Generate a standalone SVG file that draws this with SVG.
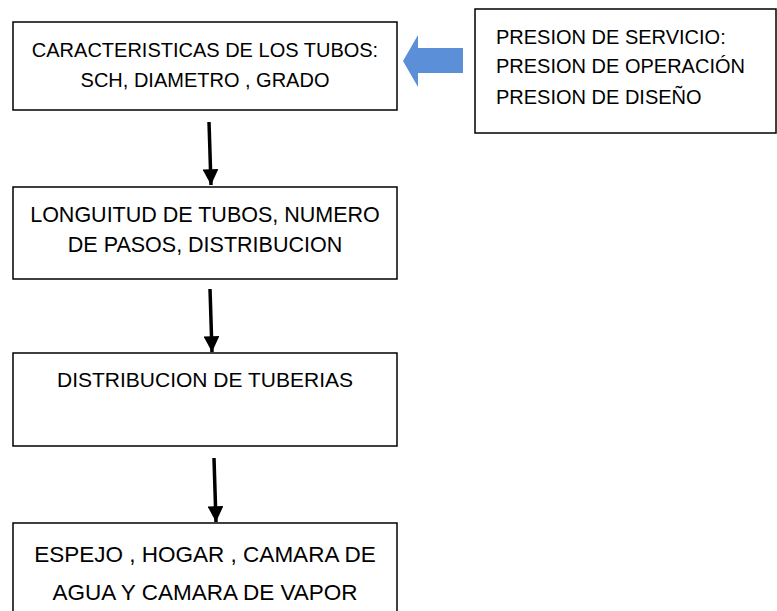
<svg xmlns="http://www.w3.org/2000/svg" width="777" height="611" viewBox="0 0 777 611">
<style>
.box{fill:#fff;stroke:#000;stroke-width:1.5}
.t{font-family:"Liberation Sans",Arial,sans-serif;font-size:20px;fill:#000}
.c{text-anchor:middle}
.big{font-size:22.5px}
.arr{stroke:#000;stroke-width:3.5;fill:none}
</style>
<defs>
<marker id="ah" viewBox="0 0 10 10" refX="10" refY="5" markerWidth="4.5" markerHeight="4.5" orient="auto" markerUnits="strokeWidth">
<path d="M0,0 L10,5 L0,10 z" fill="#000"/>
</marker>
</defs>
<rect width="777" height="611" fill="#fff"/>
<g id="n1">
<rect class="box" x="13" y="22" width="384" height="88"/>
<text class="t c" x="205" y="57">CARACTERISTICAS DE LOS TUBOS:</text>
<text class="t c" x="205" y="87">SCH, DIAMETRO , GRADO</text>
</g>
<g id="n0">
<rect class="box" x="475" y="9" width="301" height="124"/>
<text class="t" x="496" y="44">PRESION DE SERVICIO:</text>
<text class="t" x="496" y="73">PRESION DE OPERACIÓN</text>
<text class="t" x="496" y="104">PRESION DE DISEÑO</text>
</g>
<g id="n2">
<rect class="box" x="13" y="187" width="384" height="92"/>
<text class="t c" x="205" y="222" style="font-size:21.5px">LONGUITUD DE TUBOS, NUMERO</text>
<text class="t c" x="205" y="252" style="font-size:21.5px">DE PASOS, DISTRIBUCION</text>
</g>
<g id="n3">
<rect class="box" x="13" y="353" width="384" height="93"/>
<text class="t c" x="205" y="387" style="font-size:21px">DISTRIBUCION DE TUBERIAS</text>
</g>
<g id="n4">
<rect class="box" x="13" y="523" width="384" height="92"/>
<text class="t big c" x="205" y="562">ESPEJO , HOGAR , CAMARA DE</text>
<text class="t big c" x="205" y="600">AGUA Y CAMARA DE VAPOR</text>
</g>
<g id="connectors">
<path d="M418,35 L403,61 L418,87 L418,73 L463,73 L463,48 L418,48 z" fill="#5B8FD8"/>
<line class="arr" x1="209" y1="122" x2="211" y2="185" marker-end="url(#ah)"/>
<line class="arr" x1="210" y1="289" x2="212" y2="352" marker-end="url(#ah)"/>
<line class="arr" x1="214" y1="458" x2="216" y2="522" marker-end="url(#ah)"/>
</g>
</svg>
